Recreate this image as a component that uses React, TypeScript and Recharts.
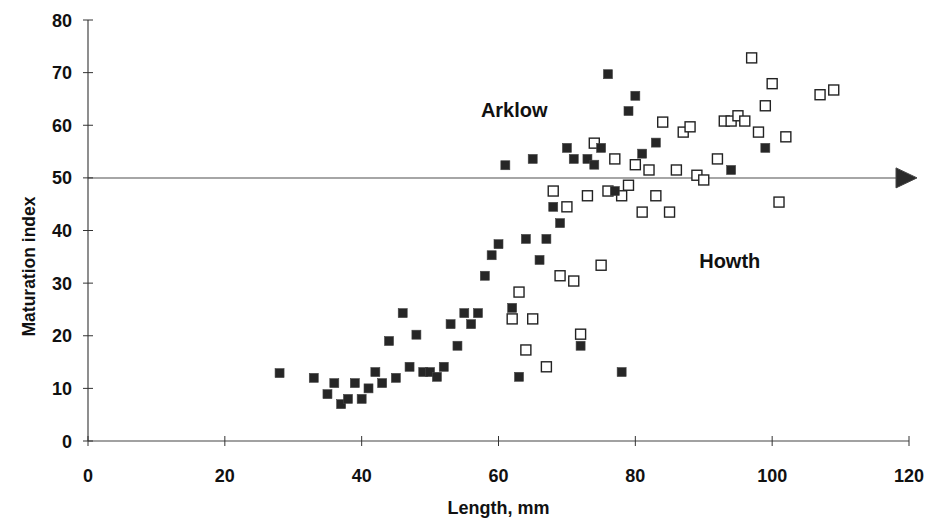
import { ScatterChart, Scatter, XAxis, YAxis, ReferenceLine, ReferenceDot } from "recharts";

const FONT = '"Liberation Sans", Arial, Helvetica, sans-serif';

/* Arklow samples (filled squares) */
const arklowLength = [
  28, 33, 35, 36, 37, 38, 39, 40, 41, 42, 43, 44, 45, 46, 47, 48, 49, 50, 51, 52,
  53, 54, 55, 56, 57, 58, 59, 60, 61, 62, 63, 64, 65, 66, 67, 68, 69, 70, 71, 72,
  73, 74, 75, 76, 77, 78, 79, 80, 81, 83, 94, 99,
];
const arklowIndex = [
  12.9, 12.0, 8.9, 11.0, 7.0, 8.0, 11.0, 8.0, 10.0, 13.1, 11.0, 19.0, 12.0, 24.3, 14.1, 20.2, 13.1, 13.1, 12.2, 14.1,
  22.2, 18.1, 24.3, 22.2, 24.3, 31.4, 35.3, 37.4, 52.4, 25.3, 12.2, 38.4, 53.6, 34.4, 38.4, 44.5, 41.4, 55.7, 53.6, 18.1,
  53.6, 52.5, 55.7, 69.7, 47.5, 13.1, 62.7, 65.6, 54.6, 56.7, 51.5, 55.7,
];

/* Howth samples (open squares) */
const howthLength = [
  62, 63, 64, 65, 67, 68, 69, 70, 71, 72, 73, 74, 75, 76, 77, 78, 79, 80, 81, 82,
  83, 84, 85, 86, 87, 88, 89, 90, 92, 93, 94, 95, 96, 97, 98, 99, 100, 101, 102, 107, 109,
];
const howthIndex = [
  23.2, 28.3, 17.3, 23.2, 14.1, 47.5, 31.4, 44.5, 30.4, 20.3, 46.6, 56.6, 33.4, 47.5, 53.6, 46.6, 48.6, 52.5, 43.5, 51.5,
  46.6, 60.6, 43.5, 51.5, 58.7, 59.7, 50.5, 49.6, 53.6, 60.8, 60.8, 61.8, 60.8, 72.8, 58.7, 63.7, 67.9, 45.4, 57.8, 65.8, 66.7,
];

const xTicks = [0, 20, 40, 60, 80, 100, 120];
const yTicks = [0, 10, 20, 30, 40, 50, 60, 70, 80];
const threshold = 50;

const arklowData = arklowLength.map((x, i) => ({ x, y: arklowIndex[i] }));
const howthData = howthLength.map((x, i) => ({ x, y: howthIndex[i] }));

function XTick({ x, y, payload }: any) {
  return (
    <g>
      <line x1={x} y1={y - 5} x2={x} y2={y + 5} stroke="#333" strokeWidth={1} />
      <text x={x} y={y + 41} textAnchor="middle" fontSize={18} fontWeight="bold" fontFamily={FONT} fill="#111">
        {payload.value}
      </text>
    </g>
  );
}

function YTick({ x, y, payload }: any) {
  return (
    <g>
      <line x1={x - 5} y1={y} x2={x + 5} y2={y} stroke="#333" strokeWidth={1} />
      <text x={x - 16} y={y + 6.5} textAnchor="end" fontSize={18} fontWeight="bold" fontFamily={FONT} fill="#111">
        {payload.value}
      </text>
    </g>
  );
}

function YTitle({ viewBox }: any) {
  const cx = viewBox.x + 29;
  const cy = viewBox.y + viewBox.height / 2 + 36;
  return (
    <text
      x={cx}
      y={cy}
      transform={`rotate(-90, ${cx}, ${cy})`}
      textAnchor="middle"
      dominantBaseline="central"
      fontSize={17.5}
      fontWeight="bold"
      fontFamily={FONT}
      fill="#111"
    >
      Maturation index
    </text>
  );
}

function FilledSquare({ cx, cy }: any) {
  return <rect x={cx - 4.5} y={cy - 4.5} width={9} height={9} fill="#262626" stroke="#444" strokeWidth={0.6} />;
}

function OpenSquare({ cx, cy }: any) {
  return <rect x={cx - 5} y={cy - 5} width={10} height={10} fill="#fff" stroke="#222" strokeWidth={1.4} />;
}

/* y=50 line with arrow head past the plot edge */
function ArrowLine(props: any) {
  const { x1, y1, x2 } = props;
  const tip = x2 + 8;
  const base = tip - 21;
  return (
    <g>
      <line x1={x1} y1={y1} x2={base} y2={y1} stroke="#888" strokeWidth={1.5} />
      <polygon points={`${tip},${y1} ${base},${y1 - 10} ${base},${y1 + 10}`} fill="#2a2a2a" stroke="#444" />
    </g>
  );
}

export default function App() {
  return (
    <div style={{ position: "absolute", left: 0, top: 0, background: "#fff" }}>
      <ScatterChart width={926} height={520} margin={{ top: 20, right: 17, left: 0, bottom: 0 }}>
        <XAxis
          type="number"
          dataKey="x"
          domain={[0, 120]}
          ticks={xTicks}
          height={79}
          tickSize={0}
          tickMargin={0}
          tickLine={false}
          tick={<XTick />}
          axisLine={{ stroke: "#444", strokeWidth: 1.2 }}
          label={{
            value: "Length, mm",
            position: "insideBottom",
            offset: 6,
            fontSize: 18,
            fontWeight: "bold",
            fontFamily: FONT,
            fill: "#111",
          }}
        />
        <YAxis
          type="number"
          dataKey="y"
          domain={[0, 80]}
          ticks={yTicks}
          width={88}
          tickSize={0}
          tickMargin={0}
          tickLine={false}
          tick={<YTick />}
          axisLine={{ stroke: "#444", strokeWidth: 1.2 }}
          label={<YTitle />}
        />
        <ReferenceLine y={threshold} shape={<ArrowLine />} />
        <Scatter data={howthData} shape={<OpenSquare />} isAnimationActive={false} />
        <Scatter data={arklowData} shape={<FilledSquare />} isAnimationActive={false} />
        <ReferenceDot
          x={62.3}
          y={62.9}
          r={0}
          fill="none"
          stroke="none"
          label={{ value: "Arklow", position: "center", fontSize: 20, fontWeight: "bold", fontFamily: FONT, fill: "#111" }}
        />
        <ReferenceDot
          x={93.8}
          y={34.2}
          r={0}
          fill="none"
          stroke="none"
          label={{ value: "Howth", position: "center", fontSize: 20, fontWeight: "bold", fontFamily: FONT, fill: "#111" }}
        />
      </ScatterChart>
    </div>
  );
}
